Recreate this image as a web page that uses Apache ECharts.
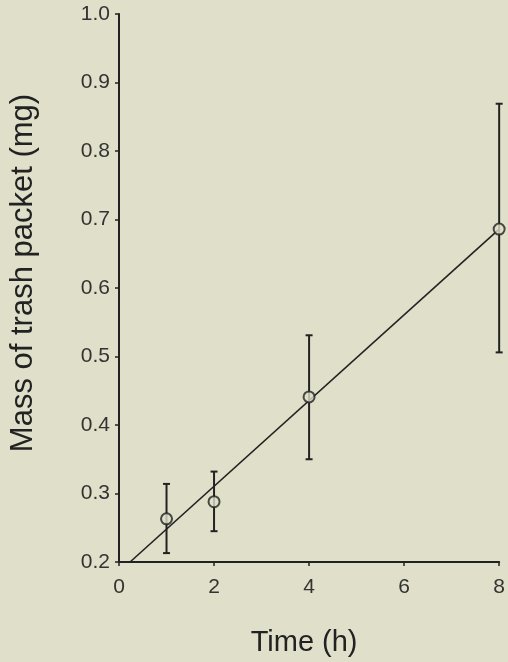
<!DOCTYPE html>
<html>
<head>
<meta charset="utf-8">
<script src="https://cdn.jsdelivr.net/npm/echarts@6/dist/echarts.min.js"></script>
<style>
html,body{margin:0;padding:0;background:#e0dfc9;}
#chart{width:508px;height:662px;}
</style>
</head>
<body>
<div id="chart"></div>
<script>
// Data
var times = [1, 2, 4, 8];
var meanMass = [0.263, 0.288, 0.441, 0.686];
var lowerMass = [0.213, 0.245, 0.350, 0.506];
var upperMass = [0.314, 0.332, 0.531, 0.869];
var fitLine = [[0.233, 0.2], [8, 0.686]];
var xTicks = [0, 2, 4, 6, 8];
var yTicks = [0.2, 0.3, 0.4, 0.5, 0.6, 0.7, 0.8, 0.9, 1.0];

var ink = '#222';
var labelInk = '#333';
var chart = echarts.init(document.getElementById('chart'), null, {renderer: 'canvas'});

var errData = times.map(function (t, i) { return [t, lowerMass[i], upperMass[i]]; });
var ptData = times.map(function (t, i) { return [t, meanMass[i]]; });

chart.setOption({
  backgroundColor: '#e0dfc9',
  animation: false,
  grid: {left: 116, right: 4, top: 14, bottom: 99},
  xAxis: {
    type: 'value', min: 0, max: 8, interval: 2,
    name: 'Time (h)', nameLocation: 'middle', nameGap: 66,
    nameTextStyle: {fontFamily: 'Liberation Sans', fontSize: 29, color: ink, padding: [0, 10, 0, 0]},
    axisLine: {show: true, onZero: false, lineStyle: {color: ink, width: 2}},
    axisTick: {show: true, length: 4, lineStyle: {color: ink, width: 1.5}},
    splitLine: {show: false},
    axisLabel: {margin: 15, fontFamily: 'Liberation Sans', fontSize: 21, color: labelInk,
      formatter: function (v) { return xTicks.indexOf(v) >= 0 ? String(v) : ''; }}
  },
  yAxis: {
    type: 'value', min: 0.2, max: 1.0, interval: 0.1,
    name: 'Mass of trash packet (mg)', nameLocation: 'middle', nameGap: 80,
    nameTextStyle: {fontFamily: 'Liberation Sans', fontSize: 31, color: ink, padding: [0, 0, 0, 30]},
    axisLine: {show: true, onZero: false, lineStyle: {color: ink, width: 2}},
    axisTick: {show: true, length: 4, lineStyle: {color: ink, width: 1.5}},
    splitLine: {show: false},
    axisLabel: {margin: 9, fontFamily: 'Liberation Sans', fontSize: 21, color: labelInk,
      formatter: function (v) {
        var s = v.toFixed(1);
        return yTicks.map(function (t) { return t.toFixed(1); }).indexOf(s) >= 0 ? s : '';
      }}
  },
  series: [
    {
      type: 'line', data: fitLine, symbol: 'none',
      lineStyle: {color: ink, width: 1.6}, z: 2
    },
    {
      type: 'custom', data: errData, z: 3,
      renderItem: function (params, api) {
        var x = api.value(0);
        var lo = api.coord([x, api.value(1)]);
        var hi = api.coord([x, api.value(2)]);
        var hw = 3.5;
        var st = {stroke: ink, lineWidth: 2};
        return {
          type: 'group',
          children: [
            {type: 'line', shape: {x1: lo[0], y1: lo[1], x2: hi[0], y2: hi[1]}, style: st},
            {type: 'line', shape: {x1: lo[0] - hw, y1: lo[1], x2: lo[0] + hw, y2: lo[1]}, style: st},
            {type: 'line', shape: {x1: hi[0] - hw, y1: hi[1], x2: hi[0] + hw, y2: hi[1]}, style: st}
          ]
        };
      }
    },
    {
      type: 'scatter', data: ptData, symbol: 'circle', symbolSize: 11, z: 4,
      itemStyle: {color: '#e0dfc9', borderColor: ink, borderWidth: 2}
    }
  ]
});
</script>
</body>
</html>
